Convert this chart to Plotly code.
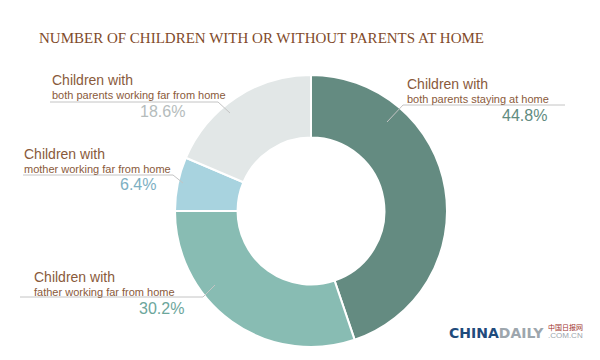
import plotly.graph_objects as go

# ---- data ----
categories = [
    "Children with both parents staying at home",
    "Children with father working far from home",
    "Children with mother working far from home",
    "Children with both parents working far from home",
]
values = [44.8, 30.2, 6.4, 18.6]
heads = ["Children with", "Children with", "Children with", "Children with"]
subs = ["both parents staying at home", "father working far from home",
        "mother working far from home", "both parents working far from home"]
slice_colors = ["#648B81", "#88BCB3", "#A8D3DF", "#E2E7E7"]
pct_colors = ["#5F8B80", "#6CA69B", "#7DAFC2", "#B5BCBC"]

W, H = 600, 360


def px(x):
    return x / W


def py(y):
    return 1 - y / H


fig = go.Figure()
fig.add_trace(go.Pie(
    labels=categories,
    values=values,
    hole=0.54,
    sort=False,
    direction="clockwise",
    rotation=0,
    textinfo="none",
    hoverinfo="label+percent",
    marker=dict(colors=slice_colors, line=dict(color="white", width=2)),
    domain=dict(x=[px(175), px(447)], y=[py(347), py(75)]),
    showlegend=False,
))

# label layout (pixel positions): text left x, text block middle y, pct right x, pct y, leader path
layouts = [
    dict(lx=406, my=90.5, prx=548, pcy=116, path=[(387, 122), (403, 105), (565, 105)]),
    dict(lx=33, my=283.5, prx=185, pcy=308, path=[(20, 297), (203, 297), (215, 285)]),
    dict(lx=23, my=160.5, prx=157, pcy=185, path=[(23, 175), (173, 175), (183, 183)]),
    dict(lx=51, my=86, prx=186, pcy=111, path=[(50, 102), (218, 102), (230, 113)]),
]

annotations = []
shapes = []
brown = "#8A5A3B"
for i, lay in enumerate(layouts):
    annotations.append(dict(x=px(lay["lx"]), y=py(lay["my"]), xref="paper", yref="paper",
                            text=f"<span style='font-size:14px'>{heads[i]}</span><br>{subs[i]}",
                            showarrow=False, xanchor="left", yanchor="middle", align="left",
                            borderpad=0,
                            font=dict(family="Liberation Sans, Arial", size=11, color=brown)))
    annotations.append(dict(x=px(lay["prx"]), y=py(lay["pcy"]), xref="paper", yref="paper",
                            text=f"{values[i]:.1f}%", showarrow=False, xanchor="right", yanchor="middle",
                            borderpad=0,
                            font=dict(family="Liberation Sans, Arial", size=16, color=pct_colors[i])))
    pts = lay["path"]
    d = "M " + " L ".join(f"{px(x)},{py(y)}" for x, y in pts)
    shapes.append(dict(type="path", path=d, xref="paper", yref="paper",
                       line=dict(color="#C4C4C4", width=1)))

# title
annotations.append(dict(x=px(261), y=py(38), xref="paper", yref="paper",
                        text="NUMBER OF CHILDREN WITH OR WITHOUT PARENTS AT HOME",
                        showarrow=False, xanchor="center", yanchor="middle",
                        font=dict(family="Liberation Serif, Times New Roman", size=15, color="#7F4A2A")))

# logo
annotations.append(dict(x=px(447), y=py(333), xref="paper", yref="paper",
                        text="<b><span style='color:#1F4B7C'>CHINA</span><span style='color:#9DA6AD'>DAILY</span></b>",
                        showarrow=False, xanchor="left", yanchor="middle",
                        font=dict(family="DejaVu Sans", size=14, color="#1F4B7C")))
annotations.append(dict(x=px(546), y=py(327), xref="paper", yref="paper",
                        text="中国日报网", showarrow=False, xanchor="left", yanchor="middle",
                        font=dict(family="Noto Sans CJK SC", size=7, color="#A0322A")))
annotations.append(dict(x=px(546), y=py(335), xref="paper", yref="paper",
                        text=".COM.CN", showarrow=False, xanchor="left", yanchor="middle",
                        font=dict(family="Liberation Sans, Arial", size=8, color="#9DA6AD")))

fig.update_layout(
    width=W, height=H,
    margin=dict(l=0, r=0, t=0, b=0),
    paper_bgcolor="white",
    plot_bgcolor="white",
    annotations=annotations,
    shapes=shapes,
)

fig.write_html("out.html", config={"displayModeBar": False},
               post_script="document.body.style.margin='0px';")
